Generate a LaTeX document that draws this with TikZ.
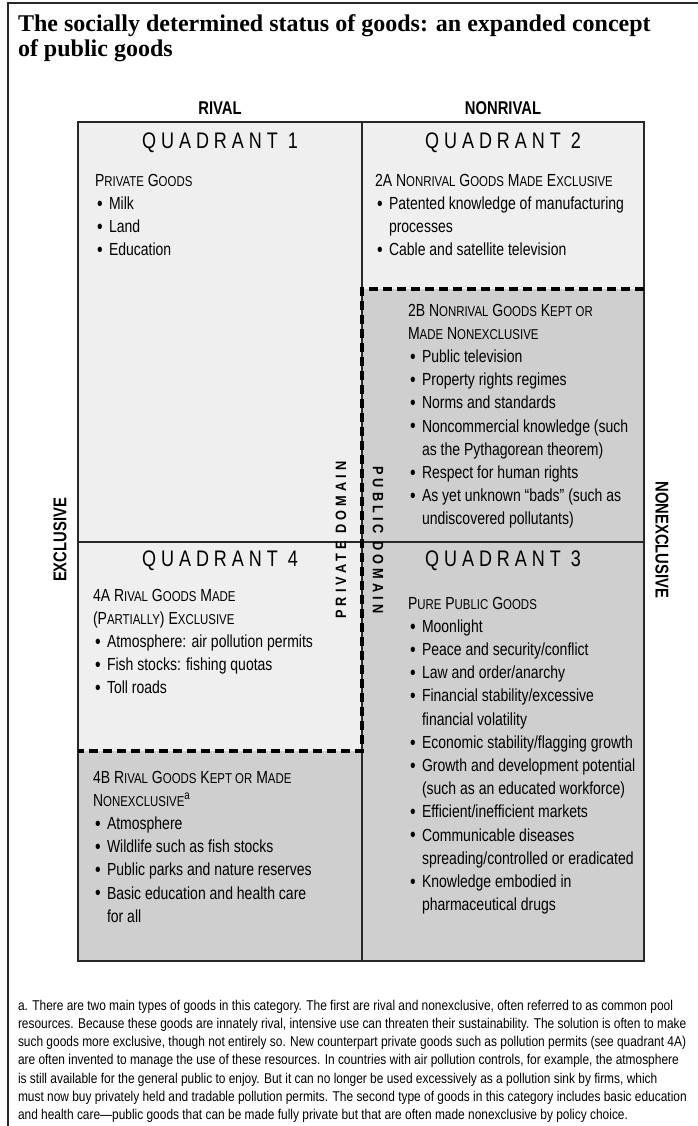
\documentclass[tikz,border=0pt]{standalone}
\usepackage{fontspec}
\setmainfont{Liberation Sans}[FakeStretch=0.8]
\newfontfamily\titlefont{Liberation Serif}
\newfontfamily\footfont{Liberation Sans}[FakeStretch=0.84]
\newfontfamily\quadfont{Liberation Sans}[FakeStretch=0.8,LetterSpace=22]
\newfontfamily\domainfont{Liberation Sans}[FakeStretch=0.85,LetterSpace=27]
\definecolor{lightgoods}{RGB}{239,239,239}
\definecolor{darkgoods}{RGB}{207,207,207}
\definecolor{gridline}{RGB}{40,40,40}
\newcommand{\sm}[1]{{\fontsize{14.3}{16}\selectfont #1}}
\newcommand{\bl}{\hspace*{2pt}\makebox[12pt][l]{\raisebox{-0.8pt}{\fontsize{20}{20}\selectfont\textbullet}}}
\newcommand{\cn}{\hspace*{14pt}}
\begin{document}
\begin{tikzpicture}[x=1pt, y=-1pt,
    every node/.style={inner sep=0pt, outer sep=0pt},
    goodsline/.style={anchor=base west, font=\fontsize{17.5}{17.5}\selectfont},
    footline/.style={anchor=base west, font=\footfont\fontsize{14.2}{14.2}\selectfont},
    quadtitle/.style={font=\quadfont\fontsize{22.5}{22.5}\selectfont},
    axislabel/.style={font=\bfseries\fontsize{18.5}{18.5}\selectfont},
    domainlabel/.style={font=\domainfont\bfseries\fontsize{15}{15}\selectfont},
    cellline/.style={draw=gridline, line width=1.3pt},
    boundary/.style={draw=black, dash pattern=on 9pt off 5pt, line width=3.6pt}]
    \useasboundingbox (0,0) rectangle (698,1126);

    % frame and title
    \draw[gridline, line width=1.5pt] (8,1126) -- (8,3) -- (698,3);
    \node[anchor=base west, font=\titlefont\bfseries\fontsize{24}{24}\selectfont] (title1) at (18,32) {The socially determined status of goods: an expanded concept};
    \node[anchor=base west, font=\titlefont\bfseries\fontsize{24}{24}\selectfont] (title2) at (18,57) {of public goods};

    % quadrants
    \fill[lightgoods] (78,122) rectangle (644,961);
    \fill[darkgoods] (362,289) -- (644,289) -- (644,961) -- (78,961) -- (78,751) -- (362,751) -- cycle;
    \draw[cellline] (78,122) rectangle (644,961);
    \draw[cellline] (362,122) -- (362,961);
    \draw[cellline] (78,542) -- (644,542);
    % private / public boundary
    \draw[boundary] (644,289) -- (362,289) -- (362,751) -- (78,751);

    % axis labels
    \node[axislabel] (rival) at (220,108) {RIVAL};
    \node[axislabel] (nonrival) at (503,108) {NONRIVAL};
    \node[axislabel, rotate=90] (excl) at (60,540) {EXCLUSIVE};
    \node[axislabel, rotate=-90] (nonexcl) at (662,540) {NONEXCLUSIVE};
    \node[domainlabel, rotate=90] (private) at (341,540) {PRIVATE DOMAIN};
    \node[domainlabel, rotate=-90] (public) at (378,540) {PUBLIC DOMAIN};

    \node[quadtitle] (quad1) at (220,143) {QUADRANT 1};
    \node[quadtitle] (quad2) at (503,143) {QUADRANT 2};
    \node[quadtitle] (quad3) at (503,561) {QUADRANT 3};
    \node[quadtitle] (quad4) at (220,561) {QUADRANT 4};

    % lists of goods
    \foreach \t [count=\i] in {P\sm{RIVATE} G\sm{OODS}, \bl Milk, \bl Land, \bl Education}
        \node[goodsline] (priv-\i) at (95,{186+(\i-1)*23.2}) {\t};
    \foreach \t [count=\i] in {2A N\sm{ONRIVAL} G\sm{OODS} M\sm{ADE} E\sm{XCLUSIVE}, \bl Patented knowledge of manufacturing, \cn processes, \bl Cable and satellite television}
        \node[goodsline] (nrex-\i) at (375,{186+(\i-1)*23.2}) {\t};
    \foreach \t [count=\i] in {2B N\sm{ONRIVAL} G\sm{OODS} K\sm{EPT OR}, M\sm{ADE} N\sm{ONEXCLUSIVE}, \bl Public television, \bl Property rights regimes, \bl Norms and standards, \bl Noncommercial knowledge (such, \cn as the Pythagorean theorem), \bl Respect for human rights, \bl As yet unknown “bads” (such as, \cn undiscovered pollutants)}
        \node[goodsline] (nrne-\i) at (408,{316+(\i-1)*23.2}) {\t};
    \foreach \t [count=\i] in {P\sm{URE} P\sm{UBLIC} G\sm{OODS}, \bl Moonlight, \bl Peace and security/conflict, \bl Law and order/anarchy, \bl Financial stability/excessive, \cn financial volatility, \bl Economic stability/flagging growth, \bl Growth and development potential, \cn (such as an educated workforce), \bl Efficient/inefficient markets, \bl Communicable diseases, \cn spreading/controlled or eradicated, \bl Knowledge embodied in, \cn pharmaceutical drugs}
        \node[goodsline] (pure-\i) at (408,{609+(\i-1)*23.2}) {\t};
    \foreach \t [count=\i] in {4A R\sm{IVAL} G\sm{OODS} M\sm{ADE}, (P\sm{ARTIALLY}) E\sm{XCLUSIVE}, \bl Atmosphere: air pollution permits, \bl Fish stocks: fishing quotas, \bl Toll roads}
        \node[goodsline] (rvex-\i) at (93,{601+(\i-1)*23.2}) {\t};
    \foreach \t [count=\i] in {4B R\sm{IVAL} G\sm{OODS} K\sm{EPT OR} M\sm{ADE}, N\sm{ONEXCLUSIVE}\textsuperscript{a}, \bl Atmosphere, \bl Wildlife such as fish stocks, \bl Public parks and nature reserves, \bl Basic education and health care, \cn for all}
        \node[goodsline] (rvne-\i) at (93,{783+(\i-1)*23.2}) {\t};

    % footnote
    \foreach \t [count=\i] in {{a. There are two main types of goods in this category. The first are rival and nonexclusive, often referred to as common pool},
        {resources. Because these goods are innately rival, intensive use can threaten their sustainability. The solution is often to make},
        {such goods more exclusive, though not entirely so. New counterpart private goods such as pollution permits (see quadrant 4A)},
        {are often invented to manage the use of these resources. In countries with air pollution controls, for example, the atmosphere},
        {is still available for the general public to enjoy. But it can no longer be used excessively as a pollution sink by firms, which},
        {must now buy privately held and tradable pollution permits. The second type of goods in this category includes basic education},
        {and health care—public goods that can be made fully private but that are often made nonexclusive by policy choice.}}
        \node[footline] (fn-\i) at (18,{1010+(\i-1)*18.3}) {\t};
\end{tikzpicture}
\end{document}
